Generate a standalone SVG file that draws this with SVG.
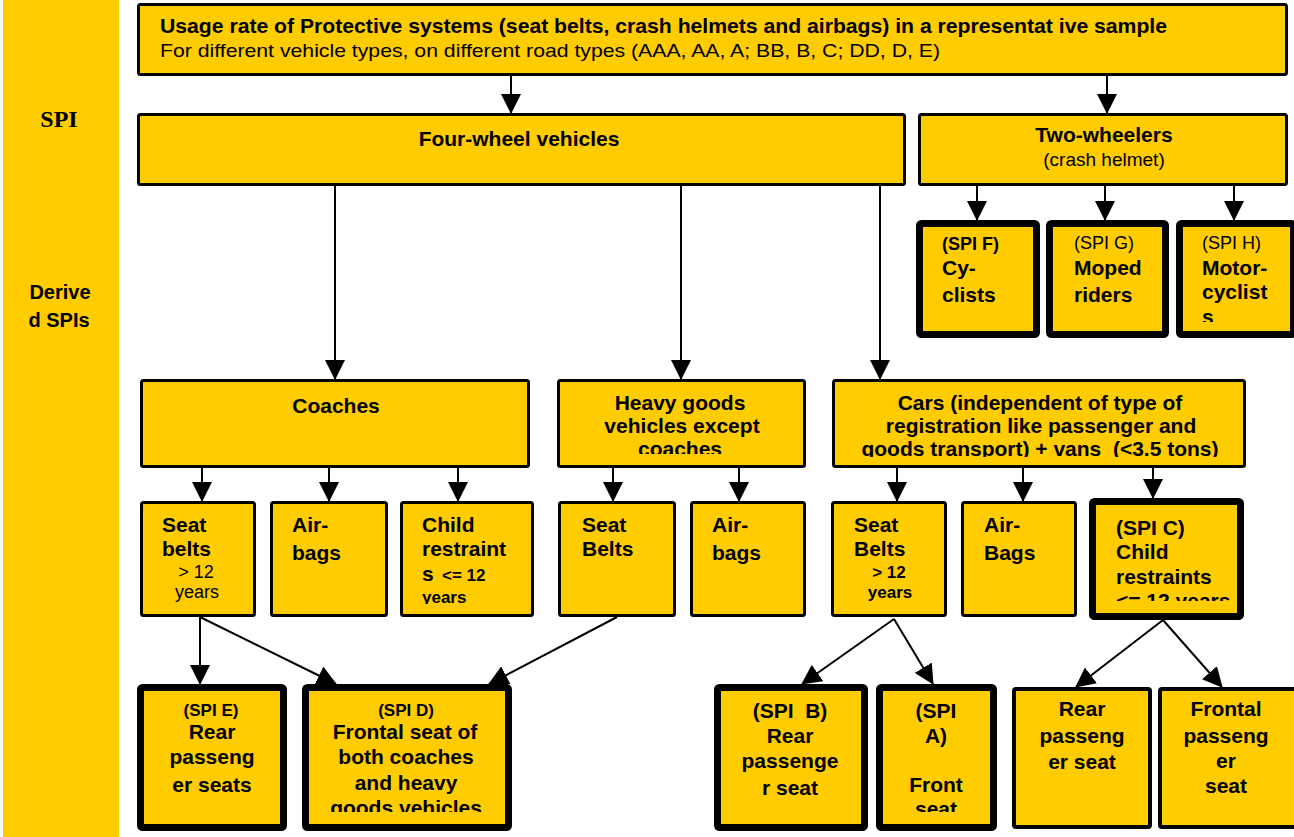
<svg xmlns="http://www.w3.org/2000/svg" width="1294" height="837" viewBox="0 0 1294 837">
<defs>
<style>
.b{fill:#FFCC00;stroke:#000;stroke-width:3}
.k{fill:#FFCC00;stroke:#000;stroke-width:7}
.m{fill:#FFCC00;stroke:#000;stroke-width:4}
text{font-family:"Liberation Sans",Arial,Helvetica,sans-serif;fill:#000}
.t{font-weight:bold;font-size:21px}
.s{font-weight:bold;font-size:17px}
.r{font-size:18px}
.c{text-anchor:middle}
.cn line{stroke:#000;stroke-width:2;marker-end:url(#ah)}
</style>
<marker id="ah" markerUnits="userSpaceOnUse" markerWidth="20" markerHeight="20" refX="19" refY="10" orient="auto" viewBox="0 0 20 20">
<path d="M0,0 L20,10 L0,20 Z" fill="#000"/>
</marker>
<clipPath id="cHeavy"><rect x="560" y="382" width="244" height="72"/></clipPath>
<clipPath id="cCars"><rect x="835" y="382" width="408" height="75"/></clipPath>
<clipPath id="cChild"><rect x="402" y="503" width="130" height="101"/></clipPath>
<clipPath id="cSpiC"><rect x="1096" y="505" width="141" height="96"/></clipPath>
<clipPath id="cSpiH"><rect x="1183" y="227" width="106" height="95"/></clipPath>
<clipPath id="cSpiD"><rect x="309" y="691" width="196" height="121"/></clipPath>
<clipPath id="cSpiA"><rect x="883" y="691" width="107" height="121"/></clipPath>
</defs>

<rect id="sidebar" x="3" y="0" width="116" height="837" fill="#FFCC00"/>
<text x="59" y="127" text-anchor="middle" style="font-family:'Liberation Serif','Times New Roman',serif;font-weight:bold;font-size:24px">SPI</text>
<text x="60" y="299" class="c" style="font-weight:bold;font-size:20px">Derive</text>
<text x="59" y="327" class="c" style="font-weight:bold;font-size:20px">d SPIs</text>

<g class="cn" id="connectors">
<line x1="511" y1="76" x2="511" y2="113"/>
<line x1="1107" y1="76" x2="1107" y2="113"/>
<line x1="977" y1="186" x2="977" y2="220"/>
<line x1="1105" y1="186" x2="1105" y2="220"/>
<line x1="1234" y1="186" x2="1234" y2="220"/>
<line x1="335" y1="186" x2="335" y2="379"/>
<line x1="681" y1="186" x2="681" y2="379"/>
<line x1="880" y1="186" x2="880" y2="379"/>
<line x1="202" y1="468" x2="202" y2="501"/>
<line x1="329" y1="468" x2="329" y2="501"/>
<line x1="458" y1="468" x2="458" y2="501"/>
<line x1="613" y1="468" x2="613" y2="501"/>
<line x1="739" y1="468" x2="739" y2="501"/>
<line x1="897" y1="468" x2="897" y2="501"/>
<line x1="1023" y1="468" x2="1023" y2="501"/>
<line x1="1153" y1="468" x2="1153" y2="498"/>
<line x1="200" y1="617" x2="200" y2="684"/>
<line x1="200" y1="617" x2="336" y2="684"/>
<line x1="617" y1="617" x2="489" y2="684"/>
<line x1="894" y1="619" x2="802" y2="684"/>
<line x1="894" y1="619" x2="933" y2="684"/>
<line x1="1163" y1="620" x2="1076" y2="687"/>
<line x1="1163" y1="620" x2="1222" y2="687"/>
</g>

<g id="top">
<rect class="b" x="138.5" y="4.5" width="1148" height="70" rx="2"/>
<text x="160" y="33" class="t" textLength="1007" lengthAdjust="spacingAndGlyphs">Usage rate of Protective systems (seat belts, crash helmets and airbags) in a representat ive sample</text>
<text x="160" y="57" style="font-size:19px" textLength="780" lengthAdjust="spacingAndGlyphs">For different vehicle types, on different road types (AAA, AA, A; BB, B, C; DD, D, E)</text>
</g>

<g id="four-wheel">
<rect class="b" x="138.5" y="114.5" width="766" height="70" rx="2"/>
<text x="519" y="146" class="t c">Four-wheel vehicles</text>
</g>

<g id="two-wheelers">
<rect class="b" x="919.5" y="114.5" width="367" height="70" rx="2"/>
<text x="1104" y="142" class="t c">Two-wheelers</text>
<text x="1104" y="166" class="c" style="font-size:19px">(crash helmet)</text>
</g>

<g id="spi-f">
<rect class="k" x="919.5" y="223.5" width="117" height="111" rx="2"/>
<text x="942" y="250" class="s" style="font-size:18px">(SPI F)</text>
<text x="942" y="275" class="t">Cy-</text>
<text x="942" y="302" class="t">clists</text>
</g>

<g id="spi-g">
<rect class="k" x="1049.5" y="223.5" width="116" height="111" rx="2"/>
<text x="1074" y="249" class="r">(SPI G)</text>
<text x="1074" y="275" class="t">Moped</text>
<text x="1074" y="302" class="t">riders</text>
</g>

<g id="spi-h">
<rect class="k" x="1179.5" y="223.5" width="114" height="111" rx="2"/>
<g clip-path="url(#cSpiH)">
<text x="1202" y="249" class="r">(SPI H)</text>
<text x="1202" y="275" class="t">Motor-</text>
<text x="1202" y="299" class="t">cyclist</text>
<text x="1202" y="324" class="t">s</text>
</g>
</g>

<g id="coaches">
<rect class="b" x="141.5" y="380.5" width="387" height="86" rx="2"/>
<text x="336" y="413" class="t c">Coaches</text>
</g>

<g id="heavy-goods">
<rect class="b" x="558.5" y="380.5" width="246" height="86" rx="2"/>
<g clip-path="url(#cHeavy)">
<text x="680" y="410" class="t c">Heavy goods</text>
<text x="682" y="433" class="t c">vehicles except</text>
<text x="680" y="456" class="t c">coaches</text>
</g>
</g>

<g id="cars">
<rect class="b" x="833.5" y="380.5" width="411" height="86" rx="2"/>
<g clip-path="url(#cCars)">
<text x="1040" y="410" class="t c">Cars (independent of type of</text>
<text x="1041" y="433" class="t c">registration like passenger and</text>
<text x="1040" y="456" class="t c" xml:space="preserve">goods transport) + vans  (&lt;3.5 tons)</text>
</g>
</g>

<g id="coach-seatbelts">
<rect class="b" x="141.5" y="502.5" width="113" height="113" rx="2"/>
<text x="162" y="532" class="t">Seat</text>
<text x="162" y="556" class="t">belts</text>
<text x="196" y="578" class="r c">&gt; 12</text>
<text x="197" y="598" class="r c">years</text>
</g>

<g id="coach-airbags">
<rect class="b" x="271.5" y="502.5" width="115" height="113" rx="2"/>
<text x="292" y="532" class="t">Air-</text>
<text x="292" y="560" class="t">bags</text>
</g>

<g id="coach-child">
<rect class="b" x="401.5" y="502.5" width="131" height="113" rx="2"/>
<g clip-path="url(#cChild)">
<text x="422" y="532" class="t">Child</text>
<text x="422" y="556" class="t">restraint</text>
<text x="422" y="581" class="t">s</text>
<text x="442" y="581" class="s">&lt;= 12</text>
<text x="422" y="603" class="s">years</text>
</g>
</g>

<g id="heavy-seatbelts">
<rect class="b" x="559.5" y="502.5" width="115" height="113" rx="2"/>
<text x="582" y="532" class="t">Seat</text>
<text x="582" y="556" class="t">Belts</text>
</g>

<g id="heavy-airbags">
<rect class="b" x="691.5" y="502.5" width="113" height="113" rx="2"/>
<text x="712" y="532" class="t">Air-</text>
<text x="712" y="560" class="t">bags</text>
</g>

<g id="cars-seatbelts">
<rect class="b" x="832.5" y="502.5" width="113" height="113" rx="2"/>
<text x="854" y="532" class="t">Seat</text>
<text x="854" y="556" class="t">Belts</text>
<text x="889" y="578" class="s c">&gt; 12</text>
<text x="890" y="598" class="s c">years</text>
</g>

<g id="cars-airbags">
<rect class="b" x="962.5" y="502.5" width="113" height="113" rx="2"/>
<text x="984" y="532" class="t">Air-</text>
<text x="984" y="560" class="t">Bags</text>
</g>

<g id="spi-c">
<rect class="k" x="1092.5" y="501.5" width="148" height="115" rx="2"/>
<g clip-path="url(#cSpiC)">
<text x="1116" y="535" class="t">(SPI C)</text>
<text x="1116" y="559" class="t">Child</text>
<text x="1116" y="584" class="t">restraints</text>
<text x="1116" y="608" class="t">&lt;= 12 years</text>
</g>
</g>

<g id="spi-e">
<rect class="k" x="140.5" y="687.5" width="143" height="140" rx="2"/>
<text x="211" y="716" class="s c">(SPI E)</text>
<text x="212" y="739" class="t c">Rear</text>
<text x="212" y="764" class="t c">passeng</text>
<text x="212" y="792" class="t c">er seats</text>
</g>

<g id="spi-d">
<rect class="k" x="305.5" y="687.5" width="203" height="140" rx="2"/>
<g clip-path="url(#cSpiD)">
<text x="406" y="716" class="s c">(SPI D)</text>
<text x="405" y="739" class="t c">Frontal seat of</text>
<text x="406" y="764" class="t c">both coaches</text>
<text x="406" y="790" class="t c">and heavy</text>
<text x="406" y="815" class="t c">goods vehicles</text>
</g>
</g>

<g id="spi-b">
<rect class="k" x="717.5" y="687.5" width="147" height="140" rx="2"/>
<text x="790" y="718" class="t c" xml:space="preserve">(SPI  B)</text>
<text x="790" y="743" class="t c">Rear</text>
<text x="790" y="768" class="t c">passenge</text>
<text x="790" y="795" class="t c">r seat</text>
</g>

<g id="spi-a">
<rect class="k" x="879.5" y="687.5" width="114" height="140" rx="2"/>
<g clip-path="url(#cSpiA)">
<text x="936" y="718" class="t c">(SPI</text>
<text x="936" y="743" class="t c">A)</text>
<text x="936" y="792" class="t c">Front</text>
<text x="936" y="816" class="t c">seat</text>
</g>
</g>

<g id="rear-seat">
<rect class="m" x="1014" y="689" width="136" height="138" rx="2"/>
<text x="1082" y="716" class="t c">Rear</text>
<text x="1082" y="743" class="t c">passeng</text>
<text x="1082" y="769" class="t c">er seat</text>
</g>

<g id="frontal-seat">
<rect class="m" x="1160" y="689" width="136" height="138" rx="2"/>
<text x="1226" y="716" class="t c">Frontal</text>
<text x="1226" y="743" class="t c">passeng</text>
<text x="1226" y="768" class="t c">er</text>
<text x="1226" y="793" class="t c">seat</text>
</g>
</svg>
